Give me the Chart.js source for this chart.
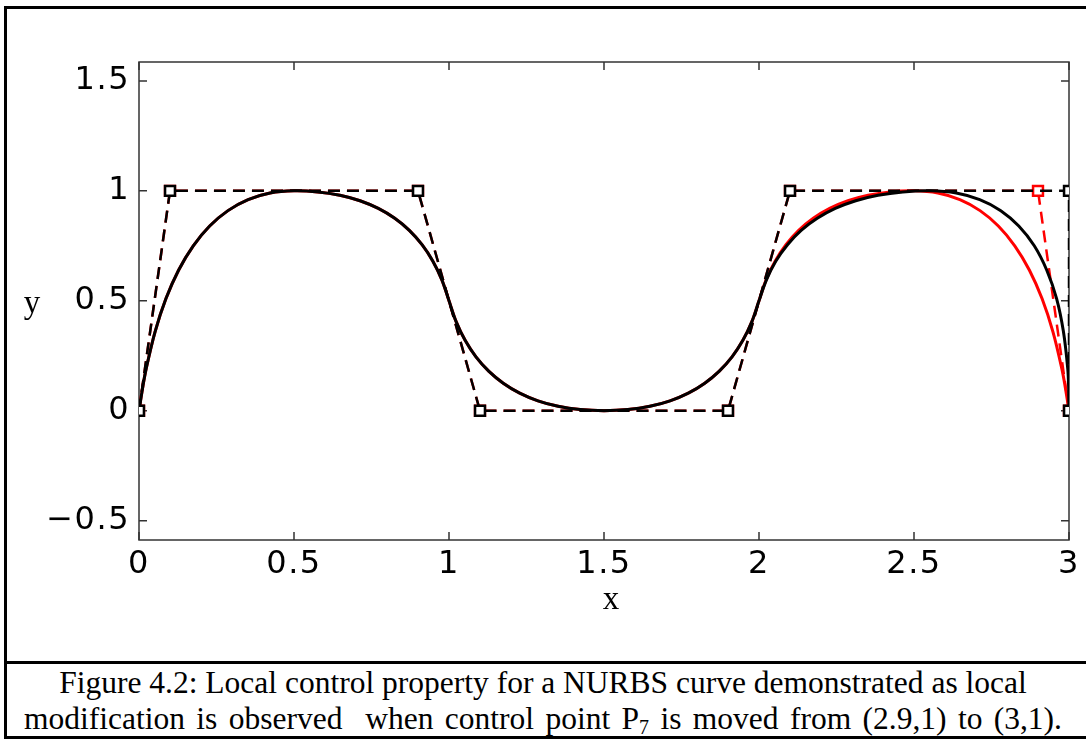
<!DOCTYPE html>
<html>
<head>
<meta charset="utf-8">
<script src="https://cdn.jsdelivr.net/npm/chart.js@4.4.1/dist/chart.umd.min.js"></script>
<style>
  body { margin: 0; background: #fff; }
  #page { position: relative; width: 1086px; height: 739px; overflow: hidden; }
  #frame { position: absolute; left: 4px; top: 6px; width: 1100px; height: 727px; border: 3px solid #000; }
  #rule { position: absolute; left: 4px; top: 661px; width: 1100px; height: 3px; background: #000; }
  #plot { position: absolute; left: 0; top: 0; }
  #caption { position: absolute; left: 0; top: 665px; width: 1086px; text-align: center;
             font: 31.5px "Liberation Serif", "Times New Roman", serif; line-height: 36px; color: #000; }
  #caption .wide { word-spacing: 3.5px; }
  #caption sub { font-size: 20px; line-height: 0; vertical-align: -5px; }
</style>
</head>
<body>
<div id="page">
  <div id="frame"></div>
  <div id="rule"></div>
  <canvas id="plot" width="1086" height="660"></canvas>
  <div id="caption">Figure 4.2: Local control property for a NURBS curve demonstrated as local<br><span class="wide">modification is observed&nbsp; when control point P<sub>7</sub> is moved from (2.9,1) to (3,1).</span></div>
</div>
<script>
// axis ticks
const xTicks = [0, 0.5, 1, 1.5, 2, 2.5, 3];
const yTicks = [-0.5, 0, 0.5, 1, 1.5];

// control polygon, P7 at (3,1) and the old P7 at (2.9,1)
const polyX = [0, 0.1, 0.9, 1.1, 1.9, 2.1, 3, 3];
const polyOldX = [0, 0.1, 0.9, 1.1, 1.9, 2.1, 2.9, 3];
const polyY = [0, 1, 1, 0, 0, 1, 1, 0];

// curve part that both curves share (x from 0 to 2)
const baseX = [0, 0.011, 0.023, 0.052, 0.087, 0.128, 0.175, 0.228, 0.287, 0.352, 0.423, 0.5,
  0.577, 0.648, 0.713, 0.772, 0.825, 0.872, 0.913, 0.948, 0.977, 1.0,
  1.023, 1.052, 1.087, 1.128, 1.175, 1.228, 1.287, 1.352, 1.423, 1.5,
  1.577, 1.648, 1.713, 1.772, 1.825, 1.872, 1.913, 1.948, 1.977, 2.0];
const baseY = [0, 0.098, 0.19, 0.36, 0.51, 0.64, 0.75, 0.84, 0.91, 0.96, 0.99, 1,
  0.995, 0.98, 0.955, 0.92, 0.875, 0.82, 0.755, 0.68, 0.595, 0.5,
  0.405, 0.32, 0.245, 0.18, 0.125, 0.08, 0.045, 0.02, 0.005, 0,
  0.005, 0.02, 0.045, 0.08, 0.125, 0.18, 0.245, 0.32, 0.405, 0.5];

// right hump, after and before moving P7
const tailX = [2.024, 2.054, 2.092, 2.136, 2.188, 2.246, 2.312, 2.384, 2.464, 2.55,
  2.636, 2.712, 2.78, 2.838, 2.888, 2.928, 2.96, 2.982, 2.996, 2.999, 3];
const tailOldX = [2.023, 2.052, 2.087, 2.128, 2.175, 2.228, 2.287, 2.352, 2.423, 2.5,
  2.577, 2.648, 2.713, 2.772, 2.825, 2.872, 2.913, 2.948, 2.977, 2.989, 3];
const tailY = [0.595, 0.68, 0.755, 0.82, 0.875, 0.92, 0.955, 0.98, 0.995, 1,
  0.99, 0.96, 0.91, 0.84, 0.75, 0.64, 0.51, 0.36, 0.19, 0.098, 0];

function pts(xs, ys) {
  return xs.map((x, i) => ({ x: x, y: ys[i] }));
}

const curveNew = pts(baseX.concat(tailX), baseY.concat(tailY));
const curveOld = pts(baseX.concat(tailOldX), baseY.concat(tailY));

// box round the plot with ticks pointing inwards, plus the x / y labels
const boxPlugin = {
  id: 'box',
  beforeDraw(chart) {
    chart.ctx.letterSpacing = '1.5px';
  },
  beforeDatasetsDraw(chart) {
    const ctx = chart.ctx, a = chart.chartArea;
    const xs = chart.scales.x, ys = chart.scales.y;
    ctx.save();
    ctx.strokeStyle = '#333';
    ctx.lineWidth = 1.5;
    ctx.strokeRect(a.left, a.top, a.right - a.left, a.bottom - a.top);
    ctx.beginPath();
    xTicks.forEach(v => {
      const p = xs.getPixelForValue(v);
      ctx.moveTo(p, a.bottom); ctx.lineTo(p, a.bottom - 8);
      ctx.moveTo(p, a.top); ctx.lineTo(p, a.top + 8);
    });
    yTicks.forEach(v => {
      const p = ys.getPixelForValue(v);
      ctx.moveTo(a.left, p); ctx.lineTo(a.left + 8, p);
      ctx.moveTo(a.right, p); ctx.lineTo(a.right - 8, p);
    });
    ctx.stroke();
    ctx.restore();
  },
  afterDraw(chart) {
    const ctx = chart.ctx, a = chart.chartArea;
    ctx.save();
    ctx.letterSpacing = '0px';
    ctx.fillStyle = '#000';
    ctx.font = '33px "Liberation Serif", serif';
    ctx.textAlign = 'center';
    ctx.textBaseline = 'alphabetic';
    ctx.fillText('x', (a.left + a.right) / 2 + 7, a.bottom + 69);
    ctx.fillText('y', a.left - 107, 313);
    ctx.restore();
  }
};

const tickFont = { family: '"DejaVu Sans", sans-serif', size: 32 };

function tickText(v) {
  return v < 0 ? '\u2212' + Math.abs(v) : String(v);
}

new Chart(document.getElementById('plot'), {
  type: 'scatter',
  data: {
    datasets: [
      {
        label: 'polygon',
        data: pts(polyX, polyY),
        showLine: true,
        borderColor: '#000',
        borderWidth: 2.5,
        borderDash: [12, 7],
        pointStyle: 'rect',
        pointRadius: 7,
        pointBorderWidth: 2.5,
        pointBorderColor: '#000',
        pointBackgroundColor: '#fff',
        order: 0
      },
      {
        label: 'curve',
        data: curveNew,
        showLine: true,
        borderColor: '#000',
        borderWidth: 3,
        tension: 0.35,
        pointRadius: 0,
        order: 1
      },
      {
        label: 'polygon (old)',
        data: pts(polyOldX, polyY),
        showLine: true,
        borderColor: '#ff0000',
        borderWidth: 2.5,
        borderDash: [12, 7],
        pointStyle: 'rect',
        pointRadius: 7,
        pointBorderWidth: 2.5,
        pointBorderColor: '#ff0000',
        pointBackgroundColor: '#fff',
        order: 2
      },
      {
        label: 'curve (old)',
        data: curveOld,
        showLine: true,
        borderColor: '#ff0000',
        borderWidth: 3,
        tension: 0.35,
        pointRadius: 0,
        order: 3
      }
    ]
  },
  options: {
    responsive: false,
    animation: false,
    events: [],
    layout: { padding: { top: 62, right: 17, bottom: 0, left: 0 } },
    plugins: {
      legend: { display: false },
      tooltip: { enabled: false }
    },
    scales: {
      x: {
        type: 'linear',
        min: 0,
        max: 3,
        grid: { display: false, drawTicks: false },
        border: { display: false },
        afterFit(scale) { scale.height = 120; },
        afterBuildTicks(scale) { scale.ticks = xTicks.map(v => ({ value: v })); },
        ticks: { font: tickFont, color: '#000', padding: 5, maxRotation: 0, callback: tickText }
      },
      y: {
        type: 'linear',
        min: -0.588,
        max: 1.586,
        grid: { display: false, drawTicks: false },
        border: { display: false },
        afterFit(scale) { scale.width = 139; },
        afterBuildTicks(scale) { scale.ticks = yTicks.map(v => ({ value: v })); },
        ticks: { font: tickFont, color: '#000', padding: 9, callback: tickText }
      }
    }
  },
  plugins: [boxPlugin]
});
</script>
</body>
</html>
